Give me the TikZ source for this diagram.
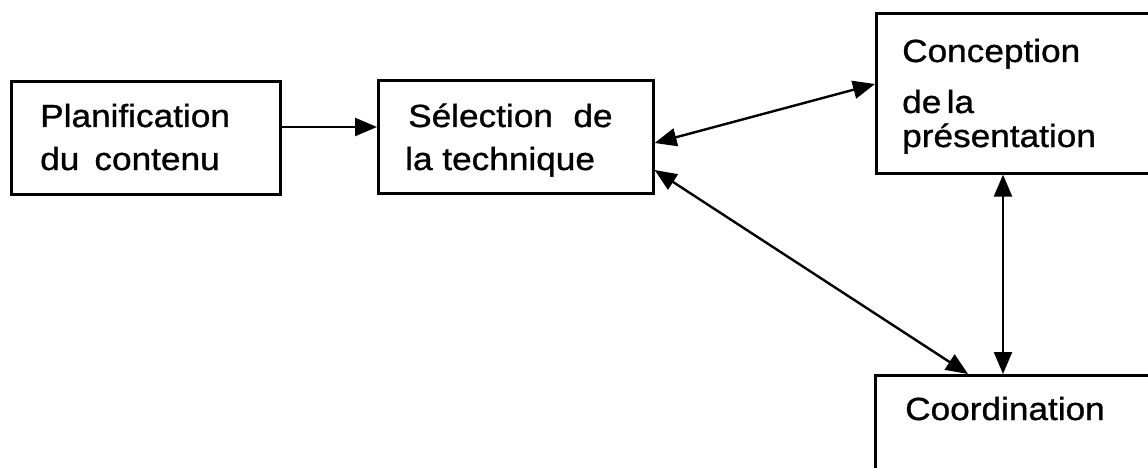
\documentclass[tikz,border=0pt]{standalone}
\usepackage{fontspec}
\setmainfont[FakeStretch=1.1,FakeBold=1]{Liberation Sans}
\usetikzlibrary{arrows.meta}
\tikzset{
  box/.style={draw, line width=2.6pt, rectangle, inner sep=0pt, anchor=north west},
  lbl/.style={anchor=base west, inner sep=0pt, font=\fontsize{32}{40}\selectfont},
  conn/.style={line width=2.4pt, {Triangle[length=22pt,width=18pt]}-{Triangle[length=22pt,width=18pt]}},
  oneway/.style={line width=2.4pt, -{Triangle[length=22pt,width=18pt]}}
}
\begin{document}
\begin{tikzpicture}[x=1pt,y=-1pt]
\useasboundingbox (0,0) rectangle (1148,468);
\clip (0,0) rectangle (1148,468);
\node[box, minimum width=269pt, minimum height=113pt] (p) at (10,80) {};
\node[box, minimum width=275pt, minimum height=113pt] (s) at (377,79) {};
\node[box, minimum width=285pt, minimum height=160pt] (c) at (875,12) {};
\node[box, minimum width=285pt, minimum height=110pt] (k) at (874,374) {};

\node[lbl] (p1) at (40,127) {Planification};
\node[lbl] (p2) at (40,170) {du\, contenu};
\node[lbl] (s1) at (408,127) {Sélection\,\, de};
\node[lbl] (s2) at (405,170) {la technique};
\node[lbl] (c1) at (902,62) {Conception};
\node[lbl] (c2) at (902,113) {de\,la};
\node[lbl] (c3) at (902,147) {présentation};
\node[lbl] (k1) at (905,420) {Coordination};

\draw[oneway] (p.east |- 0,127) -- (s.west |- 0,127);
\draw[conn] (s.east |- 0,143) -- (c.west |- 0,84);
\draw[conn] (s.east |- 0,170) -- (968,0 |- k.north);
\draw[conn] (c.south -| 1003,0) -- (k.north -| 1003,0);
\end{tikzpicture}
\end{document}
